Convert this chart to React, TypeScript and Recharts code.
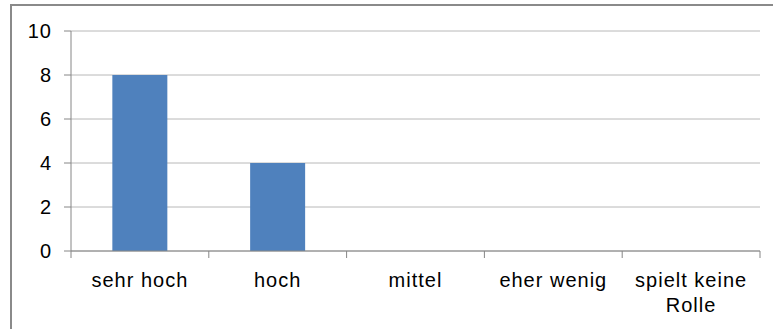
import React from 'react';
import { BarChart, Bar, XAxis, YAxis, CartesianGrid } from 'recharts';

const categories = ['sehr hoch', 'hoch', 'mittel', 'eher wenig', 'spielt keine Rolle'];
const counts = [8, 4, 0, 0, 0];
const yTicks = [0, 2, 4, 6, 8, 10];

const data = categories.map((name, i) => ({ name, value: counts[i] }));

const FONT = '"Liberation Sans", Arial, sans-serif';
const AXIS_COLOR = '#868686';
const GRID_COLOR = '#b8b8b8';
const BAR_COLOR = '#4f81bd';

// splits long labels onto two lines at the last space
const wrapLabel = (text: string) => {
  if (text.length <= 12) return [text];
  const cut = text.lastIndexOf(' ');
  return [text.slice(0, cut), text.slice(cut + 1)];
};

const CategoryTick = (props: any) => {
  const { x, y, payload, index, visibleTicksCount } = props;
  const half = payload?.offset ?? 69;
  const top = y - 12;
  const lines = wrapLabel(payload.value);
  const last = index === (visibleTicksCount ?? categories.length) - 1;
  return (
    <g>
      <line x1={x - half} x2={x - half} y1={top} y2={top + 7} stroke={AXIS_COLOR} />
      {last && <line x1={x + half} x2={x + half} y1={top} y2={top + 7} stroke={AXIS_COLOR} />}
      <text
        x={x}
        y={top + 36}
        textAnchor="middle"
        fontSize={20}
        letterSpacing={1}
        fontFamily={FONT}
        fill="#000"
      >
        {lines.map((line, i) => (
          <tspan key={i} x={x} dy={i === 0 ? 0 : 25}>
            {line}
          </tspan>
        ))}
      </text>
    </g>
  );
};

export default function App() {
  return (
    <div
      style={{
        position: 'fixed',
        left: 0,
        top: 0,
        width: 773,
        height: 329,
        overflow: 'hidden',
        background: '#fff',
      }}
    >
      <div style={{ position: 'absolute', left: 0, top: 0 }}>
        <BarChart
          width={773}
          height={329}
          data={data}
          margin={{ top: 31, right: 13, bottom: 18, left: 0 }}
          barCategoryGap="30%"
        >
          <CartesianGrid vertical={false} stroke={GRID_COLOR} strokeWidth={1} />
          <XAxis
            dataKey="name"
            height={60}
            axisLine={{ stroke: AXIS_COLOR }}
            tickLine={false}
            tickSize={0}
            tickMargin={12}
            interval={0}
            tick={<CategoryTick />}
          />
          <YAxis
            width={71}
            domain={[0, 10]}
            ticks={yTicks}
            interval={0}
            axisLine={{ stroke: AXIS_COLOR }}
            tickLine={{ stroke: AXIS_COLOR }}
            tickSize={7}
            tickMargin={12}
            tick={{ fontSize: 20, fontFamily: FONT, fill: '#000', letterSpacing: 1 }}
          />
          <Bar dataKey="value" fill={BAR_COLOR} isAnimationActive={false} />
        </BarChart>
      </div>
      {/* outer frame, only its left and top edges fall inside the view */}
      <div
        style={{
          position: 'absolute',
          left: 10,
          top: 4,
          width: 800,
          height: 400,
          borderLeft: '2px solid #8a8a8a',
          borderTop: '2px solid #8a8a8a',
          pointerEvents: 'none',
          zIndex: 2,
        }}
      />
    </div>
  );
}
